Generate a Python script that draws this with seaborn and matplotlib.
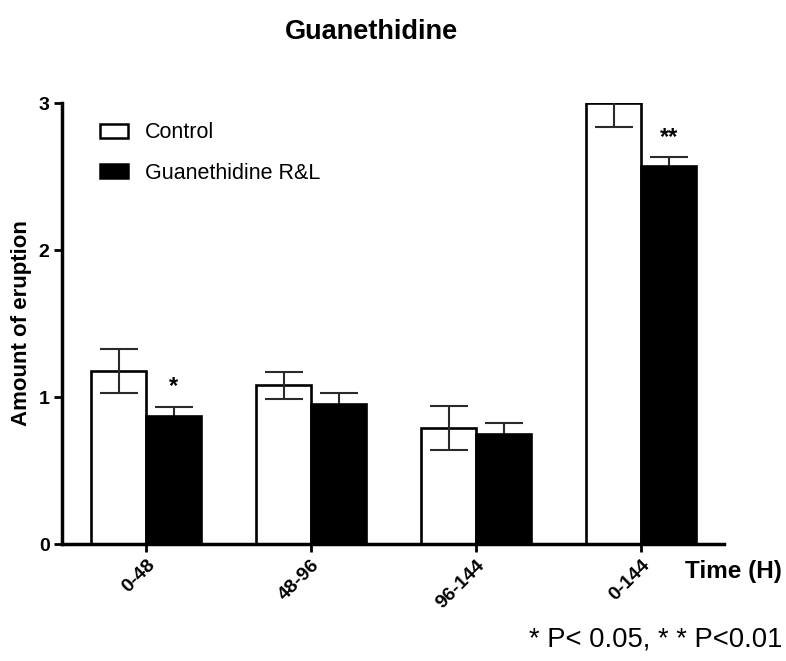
import numpy as np
import pandas as pd
import matplotlib
matplotlib.use("Agg")
import matplotlib.pyplot as plt
import seaborn as sns

# ---- data ----
time_groups = ["0-48", "48-96", "96-144", "0-144"]
treatments = ["Control", "Guanethidine R&L"]
control_mean = [1.18, 1.08, 0.79, 3.00]
control_sem = [0.15, 0.09, 0.15, 0.16]
guan_mean = [0.87, 0.95, 0.75, 2.57]
guan_sem = [0.06, 0.08, 0.07, 0.06]
signif = ["*", "", "", "**"]

sns.set_theme(style="white")
plt.rcParams["font.family"] = ["Liberation Sans", "DejaVu Sans"]
plt.rcParams.update({"text.color": "black", "axes.labelcolor": "black",
                     "xtick.color": "black", "ytick.color": "black"})

df = pd.DataFrame({
    "time": time_groups * 2,
    "group": [treatments[0]] * 4 + [treatments[1]] * 4,
    "mean": control_mean + guan_mean,
    "sem": control_sem + guan_sem,
})

fig = plt.figure(figsize=(7.86, 6.61), dpi=100)
ax = fig.add_axes([0.0789, 0.177, 0.842, 0.667])

sns.barplot(data=df, x="time", y="mean", hue="group", order=time_groups,
            hue_order=treatments, palette=["white", "black"], width=0.667,
            edgecolor="black", linewidth=1.9, errorbar=None, ax=ax,
            saturation=1)

# error bars placed on the drawn bars
bars = [p for p in ax.patches if p.get_height() > 0][:8]
bars = sorted(bars, key=lambda p: p.get_x())
means = []
sems = []
for i in range(4):
    means += [control_mean[i], guan_mean[i]]
    sems += [control_sem[i], guan_sem[i]]
xs = [b.get_x() + b.get_width() / 2 for b in bars]
ax.errorbar(xs, means, yerr=sems, fmt="none", ecolor="#2a2a2a",
            elinewidth=1.5, capsize=14, capthick=1.5, zorder=1)
# white bars under the whiskers, black bars over them
for i, b in enumerate(bars):
    b.set_zorder(0.5 if i % 2 == 0 else 2)

for i, s in enumerate(signif):
    if s:
        x = xs[2 * i + 1]
        ax.text(x, guan_mean[i] + guan_sem[i] + 0.06, s, ha="center",
                va="bottom", fontsize=17, fontweight="bold", color="black")

ax.set_ylim(0, 3)
ax.set_xlim(-0.51, 3.50)
ax.set_yticks([0, 1, 2, 3])
ax.set_yticklabels(["0", "1", "2", "3"], fontsize=14, fontweight="bold")
ax.set_xticks(range(4))
ax.set_xticklabels(time_groups, rotation=45, ha="right",
                   rotation_mode="anchor", fontsize=14, fontweight="bold")
ax.tick_params(axis="both", length=6, width=2, direction="out",
               bottom=True, left=True, colors="black", pad=3)
for side in ["top", "right"]:
    ax.spines[side].set_visible(False)
for side in ["left", "bottom"]:
    ax.spines[side].set_linewidth(2.5)
    ax.spines[side].set_color("black")

ax.set_xlabel("")
ax.set_ylabel("Amount of eruption", fontsize=16, fontweight="bold",
              color="black")
ax.yaxis.set_label_coords(-0.046, 0.5)

leg = ax.legend(loc="upper left", bbox_to_anchor=(0.028, 1.0), frameon=False,
                fontsize=15.5, handlelength=1.3, handleheight=0.6,
                handletextpad=0.8, labelspacing=0.9)
for h in leg.legend_handles:
    h.set_linewidth(1.8)
for t in leg.get_texts():
    t.set_color("black")

fig.text(0.473, 0.952, "Guanethidine", ha="center", va="center",
         fontsize=19.5, fontweight="bold", color="black")
fig.text(0.995, 0.136, "Time (H)", ha="right", va="center",
         fontsize=17.5, fontweight="bold", color="black")
fig.text(0.995, 0.032, "* P< 0.05, * * P<0.01", ha="right", va="center",
         fontsize=19.7, color="black")

fig.savefig("out.png", dpi=100)
